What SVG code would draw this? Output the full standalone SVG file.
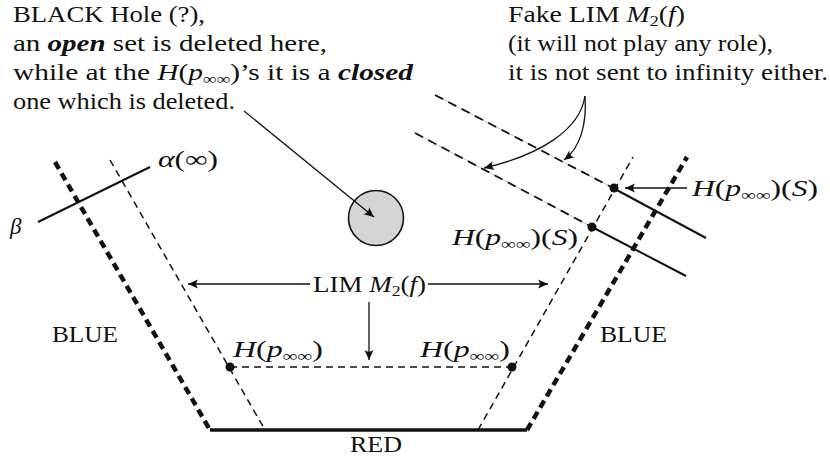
<svg xmlns="http://www.w3.org/2000/svg" width="830" height="459" viewBox="0 0 830 459">
<style>
text{font-family:"Liberation Serif","DejaVu Serif",serif;font-size:23px;fill:#111}
.i{font-style:italic}
.bi{font-style:italic;font-weight:bold}
.sub{font-size:15px}
.thick{stroke:#111;stroke-width:4.5;stroke-dasharray:8 5;fill:none}
.thin{stroke:#111;stroke-width:1.5;stroke-dasharray:7 5;fill:none}
.fake{stroke:#111;stroke-width:1.8;stroke-dasharray:9 6;fill:none}
.under{stroke:#c4c4c4;stroke-width:1;fill:none}
.solid{stroke:#111;stroke-width:2;fill:none}
.arr{stroke:#111;stroke-width:1.3;fill:none;marker-end:url(#ah)}
.dot{fill:#111}
</style>
<defs>
<marker id="ah" viewBox="-11 -6 12 12" refX="0" refY="0" markerWidth="12" markerHeight="12" markerUnits="userSpaceOnUse" orient="auto">
<path d="M0,0 L-10,-4.5 Q-6.5,0 -10,4.5 Z" fill="#111"/>
</marker>
</defs>
<rect width="830" height="459" fill="#fff"/>

<g id="blue-left">
<line class="thick" x1="55" y1="162" x2="210" y2="430"/>
<text x="52" y="342" textLength="66" lengthAdjust="spacingAndGlyphs">BLUE</text>
</g>
<g id="blue-right">
<line class="thick" x1="527" y1="430" x2="687" y2="157"/>
<text x="600" y="342" textLength="67" lengthAdjust="spacingAndGlyphs">BLUE</text>
</g>
<g id="red">
<line x1="210" y1="430" x2="527" y2="430" stroke="#111" stroke-width="3.5"/>
<text x="350" y="452" textLength="52" lengthAdjust="spacingAndGlyphs">RED</text>
</g>
<g id="lim">
<line class="thin" x1="110" y1="160" x2="265" y2="430"/>
<line class="thin" x1="478" y1="430" x2="633" y2="157"/>
<line class="thin" x1="230" y1="367" x2="512" y2="367"/>
<circle class="dot" cx="230" cy="367" r="4.5"/>
<circle class="dot" cx="512" cy="367" r="4.5"/>
<text x="313" y="292" textLength="113" lengthAdjust="spacingAndGlyphs">LIM <tspan class="i">M</tspan><tspan class="sub" dy="4">2</tspan><tspan dy="-4">(</tspan><tspan class="i">f</tspan>)</text>
<text x="233" y="357" textLength="90" lengthAdjust="spacingAndGlyphs"><tspan class="i">H</tspan>(<tspan class="i">p</tspan><tspan class="sub" dy="4">∞∞</tspan><tspan dy="-4">)</tspan></text>
<text x="420" y="357" textLength="90" lengthAdjust="spacingAndGlyphs"><tspan class="i">H</tspan>(<tspan class="i">p</tspan><tspan class="sub" dy="4">∞∞</tspan><tspan dy="-4">)</tspan></text>
</g>
<g id="beta">
<line class="solid" x1="38" y1="222" x2="150" y2="167"/>
<text x="10" y="234" class="i">β</text>
<text x="158" y="167" textLength="60" lengthAdjust="spacingAndGlyphs"><tspan class="i">α</tspan>(∞)</text>
</g>
<g id="black-hole">
<circle cx="376" cy="218" r="27.5" fill="#d4d4d4" stroke="#111" stroke-width="1.6"/>
<text x="13" y="22" textLength="192" lengthAdjust="spacingAndGlyphs">BLACK Hole (?),</text>
<text x="13" y="51" textLength="314" lengthAdjust="spacingAndGlyphs">an <tspan class="bi">open</tspan> set is deleted here,</text>
<text x="13" y="80" textLength="400" lengthAdjust="spacingAndGlyphs">while at the <tspan class="i">H</tspan>(<tspan class="i">p</tspan><tspan class="sub" dy="4">∞∞</tspan><tspan dy="-4">)’s it is a </tspan><tspan class="bi">closed</tspan></text>
<text x="13" y="109" textLength="222" lengthAdjust="spacingAndGlyphs">one which is deleted.</text>
</g>
<g id="fake-lim">
<line class="under" x1="435" y1="95" x2="613" y2="188"/>
<line class="fake" x1="435" y1="95" x2="613" y2="188"/>
<line class="solid" x1="613" y1="188" x2="706" y2="238"/>
<line class="under" x1="415" y1="133" x2="592" y2="227"/>
<line class="fake" x1="415" y1="133" x2="592" y2="227"/>
<line class="solid" x1="592" y1="227" x2="686" y2="276"/>
<circle class="dot" cx="614" cy="188" r="4.5"/>
<circle class="dot" cx="592" cy="227" r="4.5"/>
<text x="508" y="22" textLength="177" lengthAdjust="spacingAndGlyphs">Fake LIM <tspan class="i">M</tspan><tspan class="sub" dy="4">2</tspan><tspan dy="-4">(</tspan><tspan class="i">f</tspan>)</text>
<text x="508" y="51" textLength="265" lengthAdjust="spacingAndGlyphs">(it will not play any role),</text>
<text x="508" y="80" textLength="320" lengthAdjust="spacingAndGlyphs">it is not sent to infinity either.</text>
<text x="692" y="196" textLength="126" lengthAdjust="spacingAndGlyphs"><tspan class="i">H</tspan>(<tspan class="i">p</tspan><tspan class="sub" dy="4">∞∞</tspan><tspan dy="-4">)(</tspan><tspan class="i">S</tspan>)</text>
<text x="452" y="245" textLength="126" lengthAdjust="spacingAndGlyphs"><tspan class="i">H</tspan>(<tspan class="i">p</tspan><tspan class="sub" dy="4">∞∞</tspan><tspan dy="-4">)(</tspan><tspan class="i">S</tspan>)</text>
</g>

<g id="connectors">
<line class="arr" x1="244" y1="111" x2="374" y2="217"/>
<line class="arr" x1="310" y1="284" x2="188" y2="284"/>
<line class="arr" x1="428" y1="284" x2="548" y2="284"/>
<line class="arr" x1="369" y1="302" x2="369" y2="360"/>
<path class="arr" d="M585,96 C580,130 540,155 484,168"/>
<path class="arr" d="M585,96 C587,125 580,148 564,160"/>
<line class="arr" x1="687" y1="188" x2="625" y2="188"/>
</g>
</svg>
